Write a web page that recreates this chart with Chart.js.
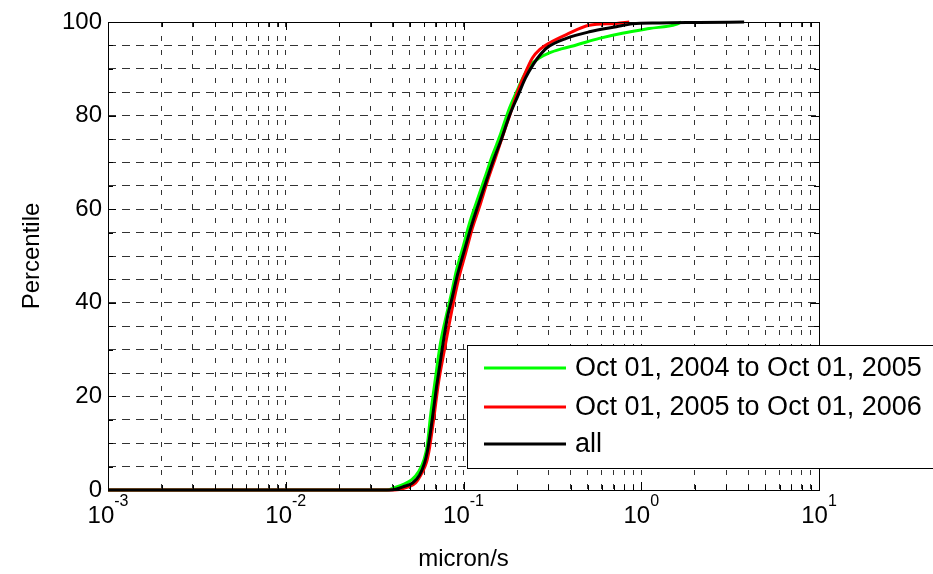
<!DOCTYPE html>
<html>
<head>
<meta charset="utf-8">
<script src="https://cdn.jsdelivr.net/npm/chart.js@4.4.1/dist/chart.umd.min.js"></script>
<style>
html,body{margin:0;padding:0;background:#fff;overflow:hidden;}
#wrap{width:933px;height:574px;position:relative;}
</style>
</head>
<body>
<div id="wrap"><canvas id="c" width="933" height="574"></canvas></div>
<script>
// ---- data ----
const seriesLabels = ['Oct 01, 2004 to Oct 01, 2005', 'Oct 01, 2005 to Oct 01, 2006', 'all'];
const seriesColors = ['#00ff00', '#ff0000', '#000000'];

const greenX = [0.001,0.0370,0.0409,0.0459,0.0512,0.0561,0.0601,0.0625,0.0653,0.0696,0.0743,0.0803,0.0856,0.0913,0.0987,0.1081,0.1183,0.1312,0.1455,0.1614,0.1789,0.1985,0.2173,0.2349,0.2700,0.3041,0.3600,0.4313,0.5808,0.7822,1.109,1.573,1.678];
const greenY = [0,0,0.5,1.2,2.2,4.0,6.6,9.5,16,24,31.5,37.5,42,47,51.5,57,61.5,66.5,71.5,76,81,85,88.3,90.6,92.4,93.4,94.3,95.1,96.5,97.6,98.6,99.5,100];

const redX = [0.001,0.0410,0.0437,0.0485,0.0537,0.0581,0.0620,0.0644,0.0679,0.0724,0.0782,0.0856,0.0937,0.1026,0.1123,0.1230,0.1364,0.1513,0.1656,0.1837,0.2011,0.2202,0.2441,0.2700,0.3041,0.3791,0.5104,0.7240,0.8560];
const redY = [0,0,0.1,0.6,1.5,3.5,6,9,15,23,30,38,45,50.5,56,60.5,66,71,75.5,80.5,85,88.7,92.3,94.2,95.5,97.3,99.3,99.7,100];

const allX = [0.001,0.0384,0.0420,0.0466,0.0517,0.0566,0.0604,0.0628,0.0661,0.0705,0.0762,0.0813,0.0856,0.0925,0.1013,0.1109,0.1199,0.1329,0.1474,0.1635,0.1813,0.2011,0.2230,0.2473,0.2700,0.2926,0.3791,0.5104,0.7240,0.8901,1.262,2.117,3.791];
const allY = [0,0,0.2,0.8,1.5,3.2,5.8,8.5,14,22,30.6,37,40.5,46,51.3,56.5,60.5,65.5,70.5,75,80,84,88,91.0,93.0,94.4,96.5,97.9,99.0,99.6,99.8,99.9,100];

// ticks
const xDecadeExponents = [-3, -2, -1, 0, 1];
const xMinorMultipliers = [1, 2, 3, 4, 5, 6, 7, 8, 9];
const yTickLabels = [0, 20, 40, 60, 80, 100];
const yMinorStep = 5;
const xTitle = 'micron/s';
const yTitle = 'Percentile';

// ---- build ----
const FONT = "'Liberation Sans', Arial, Helvetica, sans-serif";
const toPts = (xs, ys) => xs.map((v, i) => ({x: v, y: ys[i]}));

const xTickValues = [];
xDecadeExponents.forEach((e, i) => {
  if (i === xDecadeExponents.length - 1) { xTickValues.push(Math.pow(10, e)); return; }
  xMinorMultipliers.forEach(m => xTickValues.push(m * Math.pow(10, e)));
});
const isDecade = v => Math.abs(Math.log10(v) - Math.round(Math.log10(v))) < 1e-9;

const boxPlugin = {
  id: 'matlabBox',
  afterDatasetsDraw(chart) {
    const {ctx, chartArea: a, scales: {x, y}} = chart;
    ctx.save();
    ctx.strokeStyle = '#000';
    ctx.lineWidth = 1;
    ctx.setLineDash([]);
    ctx.beginPath();
    xTickValues.forEach(v => {
      const px = Math.round(x.getPixelForValue(v)) + 0.5;
      const len = isDecade(v) ? 8 : 5;
      ctx.moveTo(px, a.bottom); ctx.lineTo(px, a.bottom - len);
      ctx.moveTo(px, a.top); ctx.lineTo(px, a.top + len);
    });
    for (let v = 0; v <= 100; v += yMinorStep) {
      const py = Math.round(y.getPixelForValue(v)) + 0.5;
      const len = yTickLabels.includes(v) ? 8 : 5;
      ctx.moveTo(a.left, py); ctx.lineTo(a.left + len, py);
      ctx.moveTo(a.right, py); ctx.lineTo(a.right - len, py);
    }
    ctx.stroke();
    ctx.strokeRect(Math.round(a.left) + 0.5, Math.round(a.top) + 0.5, Math.round(a.right - a.left), Math.round(a.bottom - a.top));

    // x tick labels 10^e
    ctx.fillStyle = '#000';
    ctx.textBaseline = 'middle';
    xDecadeExponents.forEach(e => {
      const px = x.getPixelForValue(Math.pow(10, e));
      ctx.font = '24px ' + FONT;
      const base = '10';
      const wb = ctx.measureText(base).width;
      ctx.font = '16px ' + FONT;
      const ex = String(e);
      const we = ctx.measureText(ex).width;
      const start = px - (wb + we) / 2;
      ctx.font = '24px ' + FONT;
      ctx.textAlign = 'left';
      ctx.fillText(base, start, a.bottom + 26);
      ctx.font = '16px ' + FONT;
      ctx.fillText(ex, start + wb, a.bottom + 12);
    });
    ctx.restore();
  },
  afterDraw(chart) {
    const {ctx} = chart;
    ctx.save();
    const bx = 467, by = 345, bw = 480, bh = 123;
    ctx.fillStyle = '#fff';
    ctx.fillRect(bx, by, bw, bh);
    ctx.strokeStyle = '#000';
    ctx.lineWidth = 1;
    ctx.strokeRect(bx + 0.5, by + 0.5, bw, bh);
    const rows = [368, 407, 444];
    seriesLabels.forEach((lab, i) => {
      ctx.strokeStyle = seriesColors[i];
      ctx.lineWidth = 3;
      ctx.beginPath();
      ctx.moveTo(484, rows[i]); ctx.lineTo(566, rows[i]);
      ctx.stroke();
      ctx.fillStyle = '#000';
      ctx.font = '27px ' + FONT;
      ctx.textAlign = 'left';
      ctx.textBaseline = 'middle';
      ctx.fillText(lab, 575, rows[i] + 1);
    });
    ctx.restore();
  }
};

const datasets = [
  {label: seriesLabels[0], data: toPts(greenX, greenY), borderColor: seriesColors[0], order: 2},
  {label: seriesLabels[1], data: toPts(redX, redY), borderColor: seriesColors[1], order: 1},
  {label: seriesLabels[2], data: toPts(allX, allY), borderColor: seriesColors[2], order: 0}
].map(d => Object.assign(d, {borderWidth: 3, pointRadius: 0, cubicInterpolationMode: 'monotone', fill: false, clip: 6}));

new Chart(document.getElementById('c'), {
  type: 'line',
  data: {datasets},
  options: {
    responsive: false,
    animation: false,
    devicePixelRatio: 1,
    layout: {padding: {left: 0, right: 114, top: 22, bottom: 0}},
    plugins: {legend: {display: false}, tooltip: {enabled: false}, title: {display: false}},
    scales: {
      x: {
        type: 'logarithmic', min: 0.001, max: 10, position: 'bottom',
        afterBuildTicks: s => { s.ticks = xTickValues.map(v => ({value: v})); },
        afterFit: s => { s.height = 84; },
        ticks: {display: false, autoSkip: false},
        grid: {color: '#333', lineWidth: 1, drawTicks: false},
        border: {display: false, dash: [5, 9]},
        title: {display: true, text: xTitle, color: '#000', font: {size: 24, family: FONT}, padding: {top: 0, bottom: 0}}
      },
      y: {
        type: 'linear', min: 0, max: 100,
        afterFit: s => { s.width = 108; },
        ticks: {
          stepSize: yMinorStep, autoSkip: false, color: '#000', padding: 6,
          font: {size: 24, family: FONT},
          callback: v => yTickLabels.includes(v) ? String(v) : ''
        },
        grid: {color: '#333', lineWidth: 1, drawTicks: false},
        border: {display: false, dash: [8, 6]},
        title: {display: true, text: yTitle, color: '#000', font: {size: 24, family: FONT}, padding: {top: 18, bottom: 0}}
      }
    }
  },
  plugins: [boxPlugin]
});
</script>
</body>
</html>
